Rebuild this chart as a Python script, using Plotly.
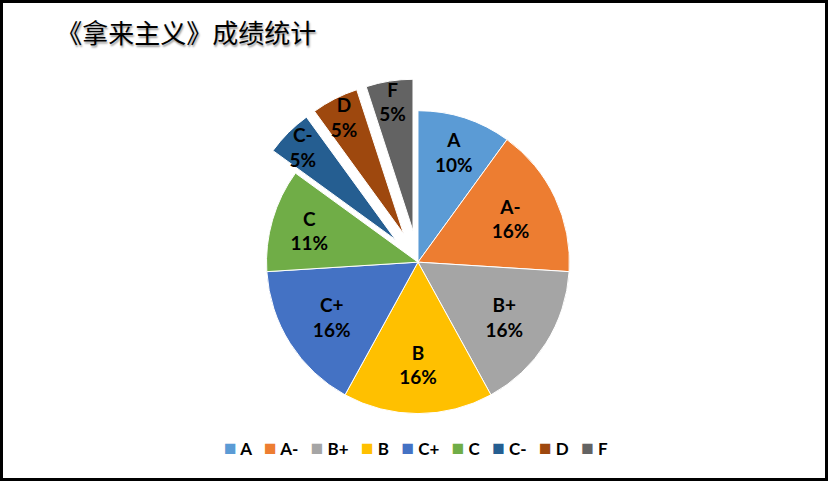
import plotly.graph_objects as go

# 成绩等级与占比
grades = ["A", "A-", "B+", "B", "C+", "C", "C-", "D", "F"]
shares = [10, 16, 16, 16, 16, 11, 5, 5, 5]
pulled = [0, 0, 0, 0, 0, 0, 0.21, 0.21, 0.21]
colors = ["#5B9BD5", "#ED7D31", "#A5A5A5", "#FFC000", "#4472C4",
          "#70AD47", "#255E91", "#9E480E", "#636363"]

fig = go.Figure(go.Pie(
    labels=grades,
    values=shares,
    pull=pulled,
    sort=False,
    direction="clockwise",
    rotation=0,
    showlegend=False,
    marker=dict(colors=colors, line=dict(color="white", width=1)),
    texttemplate="%{label}<br>%{percent:.0%}",
    textposition="inside",
    insidetextorientation="horizontal",
    textfont=dict(family="Lato", size=19, color="black", weight="bold"),
    domain=dict(x=[0.2826, 0.727], y=[0.074, 0.836]),
))

# 图例：彩色方块 + 等级（紧凑排列，仿 Excel）
legend_text = "&nbsp;&nbsp;&nbsp;".join(
    f"<span style='color:{c};font-size:21px'>■</span>&nbsp;{g}" for g, c in zip(grades, colors)
)
fig.add_annotation(
    text=legend_text, xref="paper", yref="paper", x=0.502, y=0.072,
    xanchor="center", yanchor="middle", showarrow=False,
    font=dict(family="Lato", size=17, color="black", weight="bold"),
)

fig.update_layout(
    width=828, height=481,
    margin=dict(l=0, r=0, t=0, b=0),
    paper_bgcolor="white",
    uniformtext=dict(minsize=19, mode="show"),
    title=dict(
        text="《拿来主义》成绩统计",
        x=0.068, xanchor="left", y=0.93, yanchor="middle",
        font=dict(family="Noto Sans CJK SC", size=26, color="black",
                  shadow="1px 2px 2px #999"),
    ),
    shapes=[dict(type="rect", xref="paper", yref="paper", x0=0, x1=1, y0=0, y1=1,
                 line=dict(color="black", width=6))],
)

fig.write_html("out.html", config={"displayModeBar": False},
               post_script="document.body.style.margin='0';")
